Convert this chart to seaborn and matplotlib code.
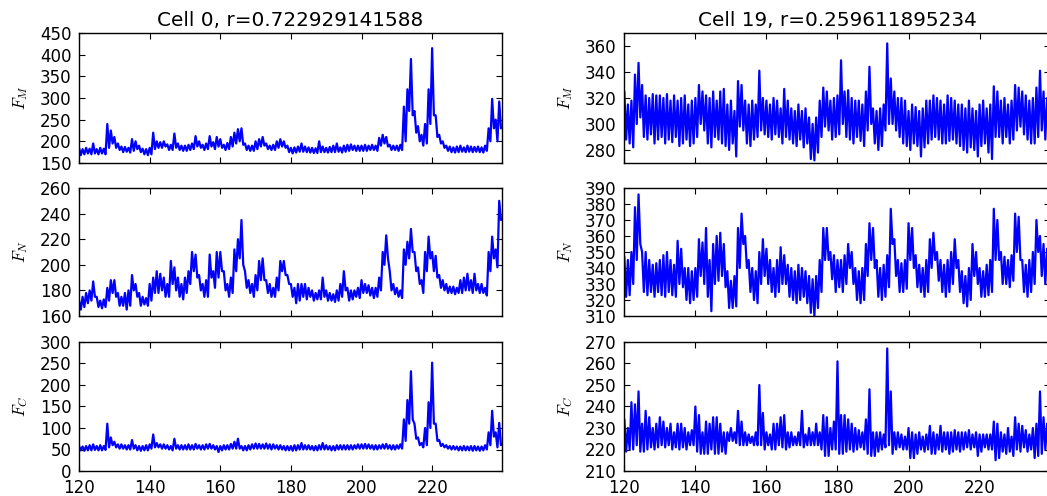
import numpy as np
import pandas as pd
import matplotlib
matplotlib.use("Agg")
import matplotlib.pyplot as plt
import seaborn as sns

# ---------------- data ----------------
# time grid of the envelope samples (one per time unit, 120..239)
t_start = 120
t_end = 239
xlim = (120, 239.8)
xticks = [120, 140, 160, 180, 200, 220]

titles = ["Cell 0, r=0.722929141588", "Cell 19, r=0.259611895234"]
ylabels = [r"$F_M$", r"$F_N$", r"$F_C$"]

# Cell 0 ---------------------------------------------------------
c0_FM_hi = [185,182,185,183,195,182,185,183,240,225,210,195,188,187,185,205,200,190,183,182,
            185,220,200,198,200,193,192,218,195,190,190,192,195,212,200,192,195,212,198,210,
            205,192,196,210,220,228,230,195,190,190,200,205,210,195,190,192,200,205,200,190,
            185,186,188,195,188,186,185,184,200,188,185,187,190,195,186,190,192,193,190,190,
            190,192,190,192,190,208,215,210,192,190,190,192,280,320,390,270,235,215,240,320,
            415,260,215,200,190,188,186,188,190,186,190,188,187,188,186,190,230,298,250,292]
c0_FM_lo = [168,170,172,170,172,170,172,170,185,195,185,180,175,176,174,178,182,175,170,168,
            170,182,185,185,188,180,180,185,180,178,178,180,182,188,185,180,182,188,182,188,
            185,180,182,188,195,200,192,180,178,178,182,188,190,182,180,180,185,188,185,175,
            172,174,176,176,175,174,173,173,175,175,174,175,175,176,174,176,178,180,178,178,
            178,178,180,180,178,190,195,188,180,180,178,180,200,270,260,220,200,190,195,240,
            260,210,195,185,178,175,174,175,176,175,176,175,176,175,174,178,200,230,200,230]

c0_FN_hi = [172,175,178,180,187,175,172,173,182,188,188,178,175,178,180,192,185,178,175,174,
            185,190,195,193,190,185,203,198,190,185,190,195,210,208,192,185,188,208,195,210,
            210,195,185,190,212,220,235,195,188,185,192,203,205,188,185,182,190,203,203,192,
            185,182,185,185,185,182,180,178,180,190,180,178,177,180,185,195,182,180,180,182,
            188,185,184,182,182,190,210,223,195,185,182,180,212,218,228,210,198,188,210,222,
            210,207,192,188,185,183,183,182,188,190,193,188,193,185,185,182,210,222,212,250]
c0_FN_lo = [165,167,170,172,175,167,166,167,172,178,175,168,168,165,168,180,175,168,169,168,
            172,178,178,180,175,175,185,180,175,173,178,185,195,190,180,175,175,190,182,190,
            195,180,175,178,195,205,200,182,178,175,180,188,188,178,175,175,180,195,192,185,
            175,170,172,175,173,175,172,173,173,175,172,172,171,172,175,180,172,173,175,174,
            178,178,176,174,175,180,200,205,180,177,175,174,200,205,210,195,185,178,195,205,
            195,190,182,180,178,178,177,178,178,180,180,178,180,178,178,176,195,205,198,235]

c0_FC_hi = [58,57,58,60,62,58,60,58,110,78,68,62,62,60,60,72,60,58,58,60,
            62,85,65,62,62,60,58,75,60,60,60,62,60,63,60,60,62,63,60,58,
            58,60,60,63,68,75,58,58,60,62,64,63,62,64,62,62,60,60,58,58,
            58,60,60,65,60,60,58,58,60,65,60,58,58,60,60,60,60,60,60,62,
            62,63,62,60,60,60,62,63,60,60,60,62,120,165,232,110,78,65,100,160,
            252,110,72,63,60,58,58,57,57,58,57,58,58,57,57,60,90,140,90,112]
c0_FC_lo = [48,47,48,48,49,48,48,49,55,60,55,52,52,50,50,52,48,47,48,48,
            52,55,55,52,52,50,48,52,50,50,50,50,50,52,50,50,52,52,50,44,
            48,50,50,52,52,52,48,48,50,52,52,52,52,52,50,52,50,50,48,48,
            47,48,50,50,50,50,48,48,50,50,50,48,48,50,50,50,50,50,52,52,
            52,52,52,50,50,52,52,52,50,50,52,52,70,110,120,75,60,55,60,100,
            110,70,58,55,52,50,50,48,48,48,48,47,48,47,48,50,60,80,55,60]

# Cell 19 --------------------------------------------------------
c19_FM_hi = [325,315,318,338,347,330,322,320,323,322,322,320,323,318,322,318,320,322,315,318,
             320,330,325,322,320,325,318,325,327,315,318,310,333,330,318,315,318,315,341,320,
             318,315,320,318,312,327,318,312,310,315,310,312,305,300,305,318,328,325,318,320,
             322,349,325,326,320,318,318,315,325,344,312,310,312,315,362,335,325,320,320,318,
             310,315,313,310,312,318,318,322,320,318,315,322,320,318,315,315,312,318,312,310,
             315,318,312,315,329,325,318,320,315,318,330,328,325,322,318,320,328,341,325,320]
c19_FM_lo = [288,285,282,300,305,290,288,292,285,288,290,285,288,286,290,283,285,288,283,285,
             290,300,295,285,282,290,288,285,283,280,285,275,298,295,285,283,288,290,295,292,
             290,288,292,290,285,290,288,285,283,288,282,285,273,272,278,290,298,295,288,290,
             292,300,290,288,285,290,287,283,295,300,285,280,283,295,300,300,295,290,285,283,
             280,285,283,275,282,285,288,290,288,285,285,287,288,285,283,280,278,282,280,275,
             283,285,278,273,290,290,285,290,285,288,295,298,292,288,285,285,290,295,288,290]

c19_FN_hi = [347,345,350,378,386,350,350,345,342,343,345,348,350,345,342,357,352,340,340,338,
             340,358,356,365,345,355,360,362,355,338,332,335,365,374,360,345,340,338,350,358,
             352,345,340,345,353,348,342,340,338,342,340,338,335,333,335,345,365,365,350,348,
             345,345,348,355,350,340,338,340,355,368,365,345,340,342,348,377,358,345,343,345,
             368,365,348,342,340,345,358,362,350,345,342,345,350,358,345,338,335,340,355,350,
             340,338,342,345,377,370,350,347,345,348,374,372,345,342,345,350,370,360,355,352]
c19_FN_lo = [322,323,330,345,355,325,323,325,322,325,323,322,325,323,322,330,328,320,318,320,
             322,335,330,322,313,330,332,335,328,315,315,316,340,355,340,325,320,318,330,335,
             330,325,322,325,330,330,322,320,318,320,322,318,312,310,315,325,345,345,333,325,
             328,325,330,340,330,320,318,320,335,345,340,322,320,322,328,355,335,325,325,327,
             345,340,328,325,322,325,340,345,332,325,322,325,330,340,325,318,316,320,335,330,
             322,322,323,325,345,345,330,330,328,332,350,345,325,322,325,330,350,335,330,335]

c19_FC_hi = [234,230,242,241,247,232,238,235,230,232,235,233,230,232,228,232,232,230,228,229,
             240,236,228,233,232,235,235,232,228,228,230,228,238,233,228,227,226,228,250,237,
             228,227,232,232,235,236,228,228,226,228,238,227,230,228,232,228,236,235,230,233,
             261,236,236,234,232,230,229,228,234,248,228,228,228,227,267,247,228,228,227,226,
             230,228,227,228,226,227,231,228,227,231,228,228,228,229,228,228,228,229,227,228,
             227,227,227,227,233,232,228,227,230,226,235,232,231,229,227,230,232,247,235,232]
c19_FC_lo = [219,220,220,222,219,219,220,221,220,221,222,221,222,220,221,220,221,220,222,222,
             219,218,218,218,220,218,218,219,218,224,224,223,222,222,222,223,222,222,222,220,
             222,220,220,222,221,220,221,222,222,222,221,222,222,222,222,220,217,217,220,220,
             218,218,219,220,219,220,221,220,218,217,217,219,220,221,222,218,220,221,220,220,
             216,216,218,220,219,220,218,218,220,219,220,218,219,220,219,220,221,220,221,217,
             219,221,220,220,215,216,219,218,219,217,220,219,221,219,220,216,217,218,220,220]

yranges = {
    (0, 0): (150, 450), (0, 1): (160, 260), (0, 2): (0, 300),
    (1, 0): (270, 370), (1, 1): (310, 390), (1, 2): (210, 270),
}
yticks = {
    (0, 0): [150, 200, 250, 300, 350, 400, 450],
    (0, 1): [160, 180, 200, 220, 240, 260],
    (0, 2): [0, 50, 100, 150, 200, 250, 300],
    (1, 0): [280, 300, 320, 340, 360],
    (1, 1): [310, 320, 330, 340, 350, 360, 370, 380, 390],
    (1, 2): [210, 220, 230, 240, 250, 260, 270],
}

series = {
    (0, 0): (c0_FM_hi, c0_FM_lo), (0, 1): (c0_FN_hi, c0_FN_lo), (0, 2): (c0_FC_hi, c0_FC_lo),
    (1, 0): (c19_FM_hi, c19_FM_lo), (1, 1): (c19_FN_hi, c19_FN_lo), (1, 2): (c19_FC_hi, c19_FC_lo),
}

# ---------------- style ----------------
sns.set_theme(style="ticks")
plt.rcParams.update({
    "font.family": ["DejaVu Sans"],
    "mathtext.fontset": "cm",
    "font.size": 12,
    "xtick.labelsize": 12,
    "ytick.labelsize": 12,
    "axes.titlesize": 14.4,
    "axes.labelsize": 12,
    "xtick.direction": "in",
    "ytick.direction": "in",
    "xtick.top": True,
    "ytick.right": True,
    "xtick.major.size": 4,
    "ytick.major.size": 4,
    "xtick.major.width": 0.8,
    "ytick.major.width": 0.8,
    "xtick.major.pad": 6,
    "ytick.major.pad": 5.5,
    "axes.edgecolor": "black",
    "axes.linewidth": 1.0,
    "xtick.color": "black",
    "ytick.color": "black",
    "text.color": "black",
    "axes.labelcolor": "black",
    "figure.facecolor": "white",
    "axes.facecolor": "white",
})

fig = plt.figure(figsize=(10.47, 4.96), dpi=100)

col_x = [(0.0755, 0.404), (0.5963, 0.4065)]
row_y = [(0.6714, 0.2621), (0.3629, 0.2581), (0.0504, 0.2601)]

t = np.arange(t_start, t_end + 1)
for c in range(2):
    for r in range(3):
        x0, w = col_x[c]
        y0, h = row_y[r]
        ax = fig.add_axes([x0, y0, w, h])
        hi, lo = series[(c, r)]
        xs = np.empty(2 * len(t))
        ys = np.empty(2 * len(t))
        xs[0::2] = t
        xs[1::2] = t + 0.5
        ys[0::2] = hi
        ys[1::2] = lo
        df = pd.DataFrame({"t": xs, "F": ys})
        sns.lineplot(data=df, x="t", y="F", ax=ax, color="#0000ff",
                     linewidth=1.6, estimator=None, sort=False)
        ax.set_xlim(*xlim)
        ax.set_ylim(*yranges[(c, r)])
        ax.set_yticks(yticks[(c, r)])
        ax.set_xticks(xticks)
        ax.set_xlabel("")
        ax.set_ylabel(ylabels[r], labelpad=7)
        if r < 2:
            ax.set_xticklabels([])
        if r == 0:
            ax.set_title(titles[c], pad=5)
        for s in ax.spines.values():
            s.set_visible(True)

fig.savefig("out.png", dpi=100, facecolor="white")
